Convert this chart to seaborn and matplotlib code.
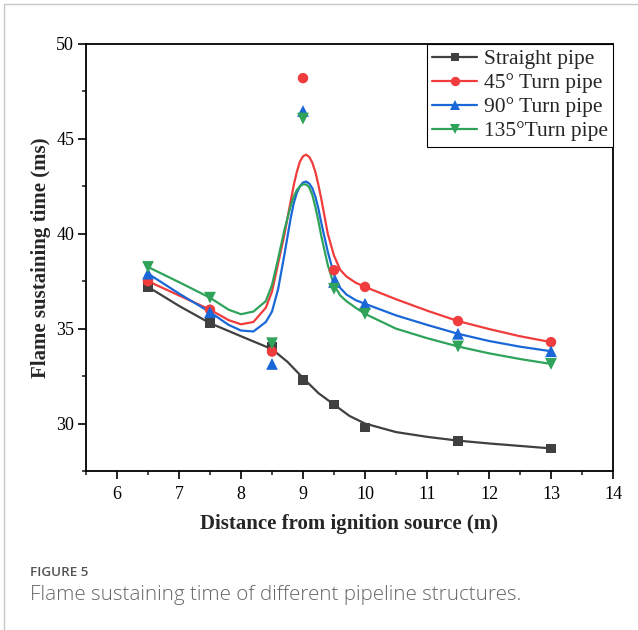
import matplotlib
matplotlib.use("Agg")
import matplotlib.pyplot as plt
from matplotlib.lines import Line2D
from matplotlib.ticker import MultipleLocator
import seaborn as sns
import pandas as pd

# ---- measured points ----
distance = [6.5, 7.5, 8.5, 9.0, 9.5, 10.0, 11.5, 13.0]
straight = [37.2, 35.29, 34.06, 32.29, 31.0, 29.79, 29.08, 28.69]
turn45 = [37.5, 36.0, 33.79, 48.2, 38.08, 37.2, 35.4, 34.29]
turn90 = [37.9, 35.87, 33.14, 46.47, 37.46, 36.31, 34.73, 33.81]
turn135 = [38.25, 36.63, 34.23, 46.07, 37.1, 35.78, 34.06, 33.14]

# ---- fitted curves ----
fit_x_straight = [6.5, 7.0, 7.5, 8.0, 8.5, 8.75, 9.0, 9.25, 9.5, 9.75, 10.0,
                  10.5, 11.0, 11.5, 12.0, 12.5, 13.0]
fit_straight = [37.2, 36.2, 35.29, 34.6, 33.92, 33.25, 32.4, 31.6, 31.0, 30.4,
                30.0, 29.55, 29.3, 29.1, 28.95, 28.82, 28.69]

fit_x_turn = [6.5, 7.0, 7.5, 7.8, 8.0, 8.2, 8.4, 8.5, 8.6, 8.7, 8.8, 8.85, 8.9,
              8.95, 9.0, 9.05, 9.1, 9.15, 9.2, 9.25, 9.3, 9.4, 9.5, 9.6, 9.7,
              9.85, 10.0, 10.5, 11.0, 11.5, 12.0, 12.5, 13.0]
fit_45 = [37.5, 36.75, 36.0, 35.45, 35.23, 35.35, 36.1, 36.95, 38.45, 39.95,
          41.7, 42.55, 43.25, 43.8, 44.08, 44.17, 44.05, 43.75, 43.25, 42.55,
          41.75, 40.0, 38.85, 38.1, 37.75, 37.42, 37.2, 36.55, 35.95, 35.4,
          34.98, 34.6, 34.29]
fit_90 = [37.9, 36.85, 35.87, 35.2, 34.9, 34.85, 35.35, 35.9, 37.1, 38.9,
          40.8, 41.6, 42.15, 42.5, 42.7, 42.75, 42.65, 42.4, 41.95, 41.3,
          40.5, 39.05, 37.85, 37.15, 36.8, 36.5, 36.31, 35.7, 35.2, 34.73,
          34.35, 34.05, 33.81]
fit_135 = [38.25, 37.45, 36.63, 36.0, 35.76, 35.9, 36.45, 37.3, 38.7, 40.2,
           41.45, 41.95, 42.3, 42.5, 42.6, 42.6, 42.45, 42.05, 41.4, 40.65,
           39.8, 38.35, 37.3, 36.75, 36.45, 36.1, 35.78, 35.0, 34.5, 34.06,
           33.7, 33.4, 33.14]

labels = ["Straight pipe", "45\u00b0 Turn pipe", "90\u00b0 Turn pipe", "135\u00b0Turn pipe"]
colors = ["#404040", "#f03c3c", "#1a68d8", "#2fa35a"]
markers = ["s", "o", "^", "v"]
msizes = [7, 7.5, 8.5, 8.5]

sns.set_theme(style="ticks")
plt.rcParams["font.family"] = ["Liberation Serif", "DejaVu Serif"]

fig = plt.figure(figsize=(6.38, 6.30), dpi=100)
ax = fig.add_axes([0.1348, 0.2524, 0.8260, 0.6778])

fits = [(fit_x_straight, fit_straight), (fit_x_turn, fit_45),
        (fit_x_turn, fit_90), (fit_x_turn, fit_135)]
points = [straight, turn45, turn90, turn135]

for (fx, fy), pts, col, mk, ms in zip(fits, points, colors, markers, msizes):
    dfl = pd.DataFrame({"x": fx, "y": fy})
    sns.lineplot(data=dfl, x="x", y="y", ax=ax, color=col, linewidth=1.6,
                 sort=False, estimator=None, zorder=2)
    dfp = pd.DataFrame({"x": distance, "y": pts})
    sns.scatterplot(data=dfp, x="x", y="y", ax=ax, color=col, marker=mk,
                    s=ms ** 2, edgecolor="none", linewidth=0, zorder=3)

ax.set_xlim(5.5, 14)
ax.set_ylim(27.5, 50)
ax.xaxis.set_major_locator(MultipleLocator(1))
ax.xaxis.set_minor_locator(MultipleLocator(0.5))
ax.yaxis.set_major_locator(MultipleLocator(5))
ax.yaxis.set_minor_locator(MultipleLocator(2.5))
ax.tick_params(axis="both", which="major", direction="out", length=5.5, width=1.2,
               labelsize=13, colors="black")
ax.tick_params(axis="x", which="major", pad=5)
ax.tick_params(axis="y", which="major", pad=3)
ax.tick_params(axis="both", which="minor", direction="out", length=3, width=1.2)
ax.tick_params(top=False, right=False, which="both")
for lbl in ax.get_xticklabels() + ax.get_yticklabels():
    lbl.set_family(["Liberation Serif", "DejaVu Serif"])
for sp in ax.spines.values():
    sp.set_visible(True)
    sp.set_linewidth(1.3)
    sp.set_color("black")

ax.set_xlabel("Distance from ignition source (m)", fontsize=15,
              fontweight="bold", labelpad=8)
ax.set_ylabel("Flame sustaining time (ms)", fontsize=15,
              fontweight="bold", labelpad=4)

handles = [Line2D([0], [0], color=c, marker=m, markersize=ms * 0.9, linewidth=1.6,
                  markeredgewidth=0) for c, m, ms in zip(colors, markers, msizes)]
leg = ax.legend(handles, labels, loc="upper right", borderaxespad=0,
                fontsize=15.5, frameon=True, fancybox=False, framealpha=1,
                edgecolor="black", handlelength=2.1, handletextpad=0.3,
                borderpad=0.25, labelspacing=0.18)
leg.get_frame().set_linewidth(0.8)

# caption
fig.text(30 / 638, 1 - 572 / 630, "FIGURE 5", fontsize=9.7, color="#555555",
         family=["Open Sans", "DejaVu Sans"], fontweight="semibold", va="center")
fig.text(30 / 638, 1 - 595 / 630, "Flame sustaining time of different pipeline structures.",
         fontsize=14.8, color="#666666", family=["Open Sans", "DejaVu Sans"],
         fontweight="light", va="center")

# card border (top and left)
fig.add_artist(Line2D([4 / 638, 4 / 638], [0, 1 - 4 / 630], color="#c8c8c8",
                      linewidth=1, transform=fig.transFigure))
fig.add_artist(Line2D([4 / 638, 1], [1 - 4 / 630, 1 - 4 / 630], color="#c8c8c8",
                      linewidth=1, transform=fig.transFigure))

fig.savefig("out.png", dpi=100)
